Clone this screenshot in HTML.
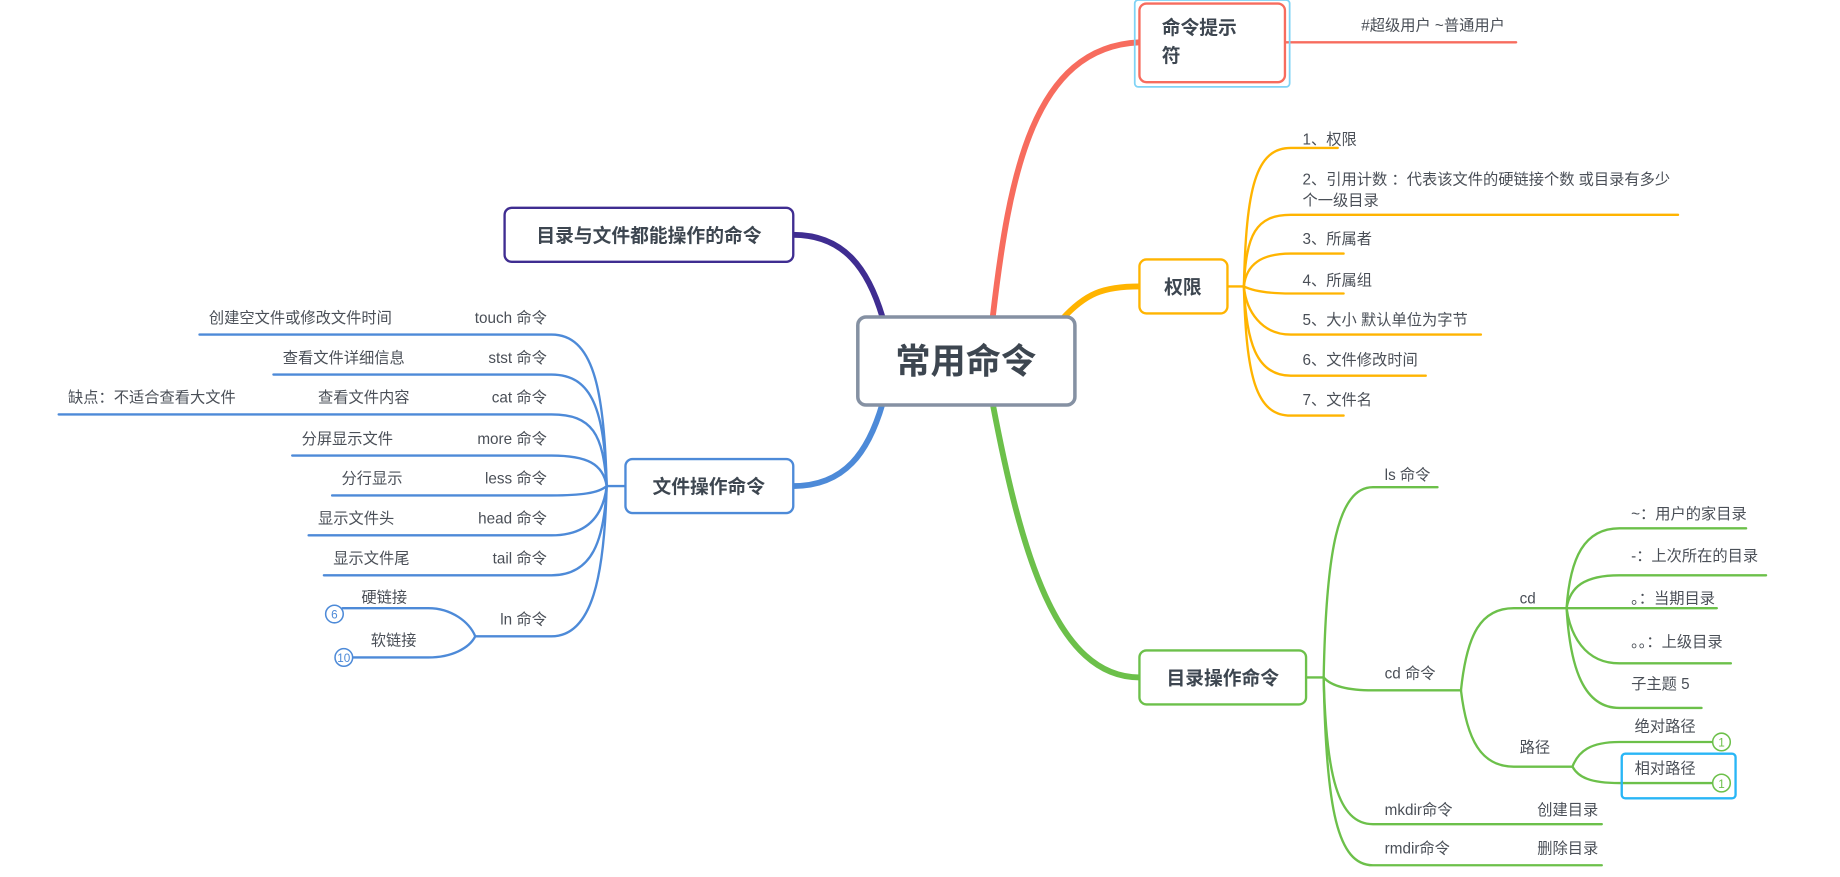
<!DOCTYPE html>
<html><head><meta charset="utf-8"><style>
html,body{margin:0;padding:0;background:#fff;}
svg{display:block;}
text{font-family:"Liberation Sans","Noto Sans CJK SC",sans-serif;fill:#4a4f57;font-size:13px;}
.b{font-weight:bold;fill:#3d4650;}
</style></head><body>
<svg width="1840" height="877" viewBox="0 0 1568 747" preserveAspectRatio="none" xmlns="http://www.w3.org/2000/svg">
<g fill="none" stroke-linecap="round">
<!-- main connectors -->
<path d="M846 270 C 860 150, 880 40, 971 36" stroke="#f76c5e" stroke-width="5"/>
<path d="M905 272 C 925 250, 940 244, 971 244" stroke="#ffb400" stroke-width="5"/>
<path d="M846 344 C 870 470, 900 577, 971 577" stroke="#6cc04a" stroke-width="5"/>
<path d="M752 270 C 740 230, 720 200, 676 200" stroke="#3f2d91" stroke-width="5"/>
<path d="M752 344 C 740 385, 720 414, 676 414" stroke="#4d8ad8" stroke-width="5"/>

<!-- red child -->
<path d="M1096 36 L1292 36" stroke="#f76c5e" stroke-width="2"/>

<!-- orange children -->
<g stroke="#ffb400" stroke-width="2">
<path d="M1046 244 L1060 244"/>
<path d="M1060 244 C 1062 160, 1070 126, 1100 126 L1140 126"/>
<path d="M1060 244 C 1062 200, 1070 183, 1100 183 L1430 183"/>
<path d="M1060 244 C 1062 225, 1075 216, 1100 216 L1145 216"/>
<path d="M1060 244 C 1068 248, 1080 250, 1100 250 L1145 250"/>
<path d="M1060 244 C 1062 265, 1075 285, 1100 285 L1262 285"/>
<path d="M1060 244 C 1062 290, 1070 320, 1100 320 L1215 320"/>
<path d="M1060 244 C 1062 320, 1070 354, 1100 354 L1145 354"/>
</g>

<!-- green children -->
<g stroke="#6cc04a" stroke-width="2">
<path d="M1113 577 L1128 577"/>
<path d="M1128 577 C 1130 470, 1140 415, 1170 415 L1225 415"/>
<path d="M1128 577 C 1135 585, 1150 588, 1170 588 L1245 588"/>
<path d="M1128 577 C 1130 660, 1140 702, 1170 702 L1365 702"/>
<path d="M1128 577 C 1130 690, 1140 737, 1170 737 L1365 737"/>
<path d="M1245 588 C 1250 540, 1262 518, 1290 518 L1335 518"/>
<path d="M1245 588 C 1250 630, 1262 653, 1290 653 L1340 653"/>
<path d="M1335 518 C 1338 475, 1350 450, 1380 450 L1488 450"/>
<path d="M1335 518 C 1338 500, 1350 490, 1380 490 L1505 490"/>
<path d="M1335 518 L1463 518"/>
<path d="M1335 518 C 1338 540, 1350 565, 1380 565 L1475 565"/>
<path d="M1335 518 C 1338 570, 1350 603, 1380 603 L1450 603"/>
<path d="M1340 653 C 1345 640, 1355 632, 1380 632 L1459 632"/>
<path d="M1340 653 C 1345 662, 1355 667, 1380 667 L1459 667"/>
</g>

<!-- blue children -->
<g stroke="#4d8ad8" stroke-width="2">
<path d="M533 414 L517 414"/>
<path d="M517 414 C 515 330, 505 285, 470 285 L170 285"/>
<path d="M517 414 C 515 350, 505 319, 470 319 L233 319"/>
<path d="M517 414 C 514 370, 505 353, 470 353 L50 353"/>
<path d="M517 414 C 514 395, 500 388, 470 388 L249 388"/>
<path d="M517 414 C 510 420, 495 422, 470 422 L283 422"/>
<path d="M517 414 C 514 440, 500 456, 470 456 L263 456"/>
<path d="M517 414 C 515 460, 505 490, 470 490 L276 490"/>
<path d="M517 414 C 515 490, 505 542, 470 542 L405 542"/>
<path d="M405 542 C 400 530, 385 518, 365 518 L292 518"/>
<path d="M405 542 C 400 552, 385 560, 365 560 L300 560"/>
</g>
</g>

<!-- boxes -->
<rect x="967" y="0" width="132" height="74" rx="3" fill="none" stroke="#7fd3f5" stroke-width="1.5"/>
<rect x="971" y="3" width="124" height="67" rx="6" fill="#fff" stroke="#f76c5e" stroke-width="2"/>
<text class="b" x="990" y="29" style="font-size:16px">命令提示</text>
<text class="b" x="990" y="53" style="font-size:16px">符</text>

<rect x="971" y="221" width="75" height="46" rx="6" fill="#fff" stroke="#ffb400" stroke-width="2"/>
<text class="b" x="1008" y="250" text-anchor="middle" style="font-size:16px">权限</text>

<rect x="971" y="554" width="142" height="46" rx="6" fill="#fff" stroke="#6cc04a" stroke-width="2"/>
<text class="b" x="1042" y="583" text-anchor="middle" style="font-size:16px">目录操作命令</text>

<rect x="430" y="177" width="246" height="46" rx="6" fill="#fff" stroke="#3f2d91" stroke-width="2"/>
<text class="b" x="553" y="206" text-anchor="middle" style="font-size:16px">目录与文件都能操作的命令</text>

<rect x="533" y="391" width="143" height="46" rx="6" fill="#fff" stroke="#4d8ad8" stroke-width="2"/>
<text class="b" x="604" y="420" text-anchor="middle" style="font-size:16px">文件操作命令</text>

<rect x="731" y="270" width="185" height="75" rx="7" fill="#fff" stroke="#8591a3" stroke-width="3"/>
<text class="b" x="823" y="318" text-anchor="middle" style="font-size:30px">常用命令</text>

<!-- texts right -->
<text x="1160" y="26">#超级用户  ~普通用户</text>
<text x="1110" y="123">1、权限</text>
<text x="1110" y="157">2、引用计数 ：代表该文件的硬链接个数 或目录有多少</text>
<text x="1110" y="175">个一级目录</text>
<text x="1110" y="208">3、所属者</text>
<text x="1110" y="243">4、所属组</text>
<text x="1110" y="277">5、大小  默认单位为字节</text>
<text x="1110" y="311">6、文件修改时间</text>
<text x="1110" y="345">7、文件名</text>

<text x="1180" y="409">ls 命令</text>
<text x="1180" y="578">cd 命令</text>
<text x="1180" y="694">mkdir命令</text>
<text x="1310" y="694">创建目录</text>
<text x="1180" y="727">rmdir命令</text>
<text x="1310" y="727">删除目录</text>
<text x="1295" y="514">cd</text>
<text x="1295" y="641">路径</text>
<text x="1390" y="442">~：用户的家目录</text>
<text x="1390" y="478">-：上次所在的目录</text>
<text x="1390" y="514">。：当期目录</text>
<text x="1390" y="551">。。：上级目录</text>
<text x="1390" y="587">子主题 5</text>
<text x="1393" y="623">绝对路径</text>
<rect x="1382" y="642" width="97" height="38" rx="3" fill="none" stroke="#29b6f6" stroke-width="2"/>
<text x="1393" y="659">相对路径</text>
<circle cx="1467" cy="632" r="7.5" fill="#fff" stroke="#6cc04a" stroke-width="1.3"/>
<text x="1467" y="636" text-anchor="middle" style="font-size:10px;fill:#6cc04a">1</text>
<circle cx="1467" cy="667" r="7.5" fill="#fff" stroke="#6cc04a" stroke-width="1.3"/>
<text x="1467" y="671" text-anchor="middle" style="font-size:10px;fill:#6cc04a">1</text>

<!-- texts left -->
<g text-anchor="end">
<text x="466" y="275">touch 命令</text>
<text x="466" y="309">stst 命令</text>
<text x="466" y="343">cat 命令</text>
<text x="466" y="378">more 命令</text>
<text x="466" y="412">less 命令</text>
<text x="466" y="446">head 命令</text>
<text x="466" y="480">tail 命令</text>
<text x="466" y="532">ln 命令</text>
</g>
<text x="178" y="275">创建空文件或修改文件时间</text>
<text x="241" y="309">查看文件详细信息</text>
<text x="271" y="343">查看文件内容</text>
<text x="58" y="343">缺点：不适合查看大文件</text>
<text x="257" y="378">分屏显示文件</text>
<text x="291" y="412">分行显示</text>
<text x="271" y="446">显示文件头</text>
<text x="284" y="480">显示文件尾</text>
<text x="308" y="513">硬链接</text>
<text x="316" y="550">软链接</text>
<circle cx="285" cy="523" r="7.5" fill="#fff" stroke="#4d8ad8" stroke-width="1.3"/>
<text x="285" y="527" text-anchor="middle" style="font-size:10px;fill:#4d8ad8">6</text>
<circle cx="293" cy="560" r="7.5" fill="#fff" stroke="#4d8ad8" stroke-width="1.3"/>
<text x="293" y="564" text-anchor="middle" style="font-size:10px;fill:#4d8ad8">10</text>
</svg>
</body></html>
